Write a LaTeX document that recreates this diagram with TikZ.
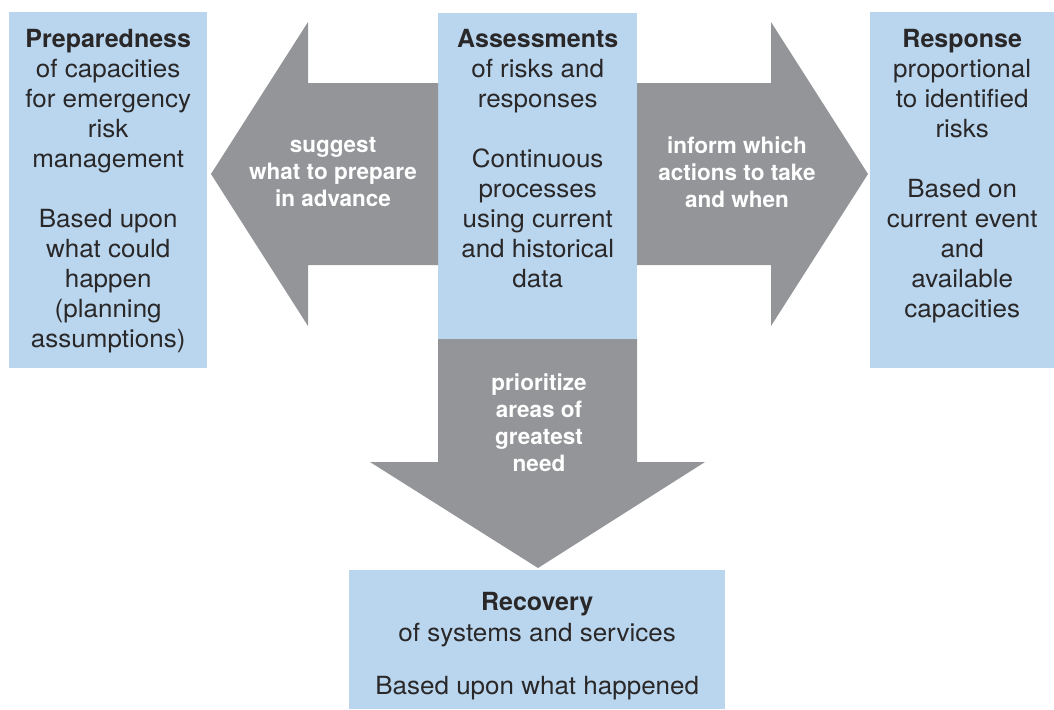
\documentclass[tikz,border=0pt]{standalone}
\usepackage{fontspec}
\setmainfont{TeX Gyre Heros}[UprightFeatures={FakeStretch=1.04}]
\usetikzlibrary{positioning}

\definecolor{boxblue}{HTML}{B9D6EE}
\definecolor{arrowgray}{HTML}{939598}
\definecolor{inkdark}{HTML}{2A2728}

\tikzset{
  panel/.style={rectangle, fill=boxblue, inner sep=0pt, anchor=north west},
  paneltext/.style={anchor=north, inner sep=0pt, align=center, text=inkdark,
    font=\fontsize{25}{30}\selectfont},
  arrowtext/.style={inner sep=0pt, align=center, text=white,
    font=\fontsize{22.5}{27}\selectfont\bfseries},
  blockarrow/.style={fill=arrowgray}
}

\begin{document}
\begin{tikzpicture}[x=1pt,y=-1pt]
        % Frame of the whole picture
        \useasboundingbox (0,0) rectangle (1054,709);

        % Draw the four boxes
        \node[panel, minimum width=198pt, minimum height=356pt] (prep) at (9,12) {};
        \node[panel, minimum width=199pt, minimum height=326pt] (assess) at (438,13) {};
        \node[panel, minimum width=184pt, minimum height=356pt] (resp) at (870,12) {};
        \node[panel, minimum width=376pt, minimum height=139pt] (recov) at (349,570) {};

        % Block arrow to the left
        \fill[blockarrow] (438,83) -- (308,83) -- (308,22) -- (211,174)
          -- (308,326) -- (308,265) -- (438,265) -- cycle;

        % Block arrow to the right
        \fill[blockarrow] (637,83) -- (771,83) -- (771,22) -- (868,174)
          -- (771,326) -- (771,265) -- (637,265) -- cycle;

        % Block arrow downwards
        \fill[blockarrow] (438,339) -- (637,339) -- (637,462) -- (705,462)
          -- (538,568) -- (370,462) -- (438,462) -- cycle;

        % Texts of the boxes
        \node[paneltext, below=17pt of prep.north] (preptext)
          {\textbf{Preparedness}\\of capacities\\for emergency\\risk\\management\\[30pt]
           Based upon\\what could\\happen\\(planning\\assumptions)};
        \node[paneltext, below=16pt of assess.north] (assesstext)
          {\textbf{Assessments}\\of risks and\\responses\\[30pt]
           Continuous\\processes\\using current\\and historical\\data};
        \node[paneltext, below=17pt of resp.north] (resptext)
          {\textbf{Response}\\proportional\\to identified\\risks\\[30pt]
           Based on\\current event\\and\\available\\capacities};
        \node[paneltext, below=22pt of recov.north, font=\fontsize{25}{31}\selectfont] (recovtext)
          {\textbf{Recovery}\\of systems and services\\[22pt]Based upon what happened};

        % Texts on the arrows
        \node[arrowtext] (suggest) at (333,172) {suggest\\what to prepare\\in advance};
        \node[arrowtext] (inform) at (737,172) {inform which\\actions to take\\and when};
        \node[arrowtext] (prioritize) at (539,423) {prioritize\\areas of\\greatest\\need};
      \end{tikzpicture}
\end{document}
